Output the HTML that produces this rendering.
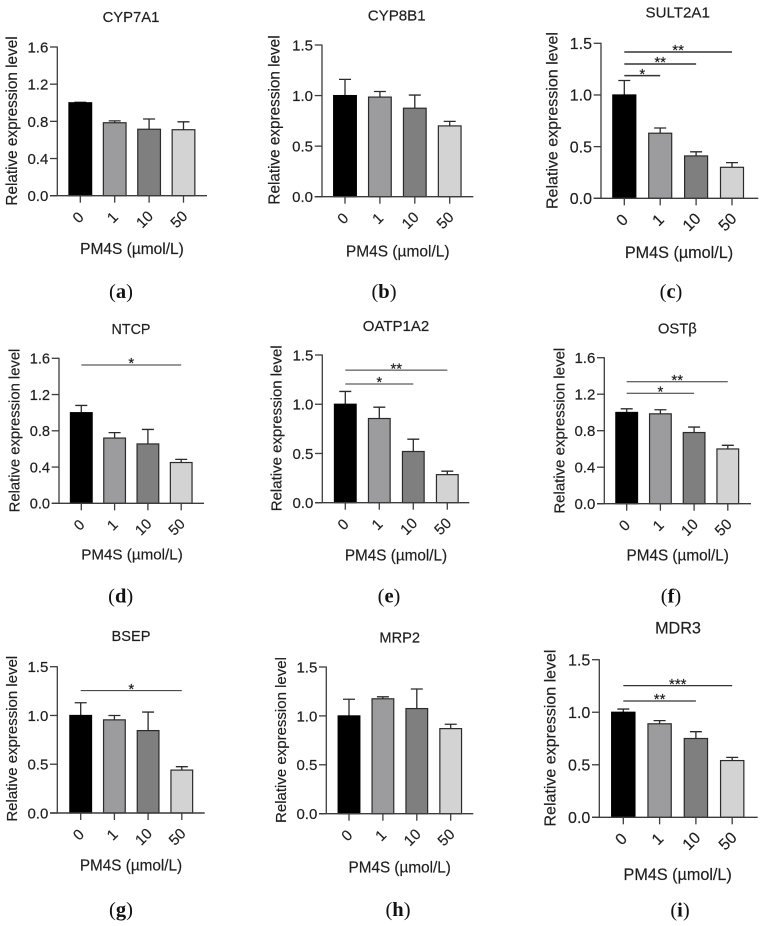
<!DOCTYPE html>
<html lang="en">
<head>
<meta charset="utf-8">
<title>Relative expression levels after PM4S treatment</title>
<style>
html,body{margin:0;padding:0;background:#fff;width:761px;height:926px;overflow:hidden}
svg{display:block;filter:blur(0.35px)}
text{font-family:"Liberation Sans",Arial,sans-serif;fill:#1f1f1f;stroke:#1f1f1f;stroke-width:0.18px}
.cap{font-family:"Liberation Serif","Times New Roman",serif;fill:#111;stroke:none}
</style>
</head>
<body>
<svg id="figure" xmlns="http://www.w3.org/2000/svg" width="761" height="926" viewBox="0 0 761 926"></svg>
<script>
// ---------- data ----------
const categories = ['0', '1', '10', '50'];
const xAxisTitle = 'PM4S (µmol/L)';
const yAxisTitle = 'Relative expression level';
const ticks16 = [0, 0.4, 0.8, 1.2, 1.6];
const ticks15 = [0, 0.5, 1.0, 1.5];

const cyp7a1Means = [1.0, 0.785, 0.715, 0.71];
const cyp7a1Errors = [0.005, 0.02, 0.11, 0.085];
const cyp8b1Means = [1.0, 0.985, 0.875, 0.70];
const cyp8b1Errors = [0.16, 0.055, 0.13, 0.045];
const sult2a1Means = [1.0, 0.63, 0.41, 0.30];
const sult2a1Errors = [0.14, 0.05, 0.04, 0.045];
const ntcpMeans = [1.0, 0.72, 0.655, 0.45];
const ntcpErrors = [0.08, 0.06, 0.16, 0.035];
const oatp1a2Means = [1.0, 0.855, 0.52, 0.285];
const oatp1a2Errors = [0.13, 0.115, 0.125, 0.035];
const ostbMeans = [1.0, 0.985, 0.78, 0.60];
const ostbErrors = [0.04, 0.045, 0.06, 0.04];
const bsepMeans = [1.0, 0.955, 0.845, 0.44];
const bsepErrors = [0.13, 0.045, 0.19, 0.035];
const mrp2Means = [1.0, 1.175, 1.075, 0.87];
const mrp2Errors = [0.17, 0.02, 0.20, 0.045];
const mdr3Means = [1.0, 0.89, 0.75, 0.54];
const mdr3Errors = [0.03, 0.03, 0.065, 0.03];

// significance brackets: first group, last group, height in axis units, label
const sult2a1Sig = [[0, 3, 1.416, '**'], [0, 2, 1.30, '**'], [0, 1, 1.187, '*']];
const ntcpSig = [[0, 3, 1.526, '*']];
const oatp1a2Sig = [[0, 3, 1.346, '**'], [0, 2, 1.205, '*']];
const ostbSig = [[0, 3, 1.337, '**'], [0, 2, 1.21, '*']];
const bsepSig = [[0, 3, 1.255, '*']];
const mdr3Sig = [[0, 3, 1.253, '***'], [0, 2, 1.107, '**']];

// ---------- panel layout (frame geometry, separate from the data) ----------
const panels = [
 {id:'a',title:'CYP7A1',means:cyp7a1Means,errors:cyp7a1Errors,sig:[],sw:1,ticks:ticks16,dec:1,x0:57.3,xEnd:207,yTop:47,yBot:195.7,first:80.3,step:34.4,bw:23.7,tf:15,lf:15.3,xf:15.5,ttf:14.8,tx:131,ty:22,lx:17,ly:121,xx:132,xy:254,cx:121,cy:298},
 {id:'b',title:'CYP8B1',means:cyp8b1Means,errors:cyp8b1Errors,sig:[],sw:1,ticks:ticks15,dec:1,x0:322,xEnd:473.3,yTop:45,yBot:196.7,first:345,step:34.9,bw:23.7,tf:15,lf:15.3,xf:15.5,ttf:15.1,tx:396.7,ty:20.7,lx:279.5,ly:120,xx:397.7,xy:256.7,cx:384,cy:298},
 {id:'c',title:'SULT2A1',means:sult2a1Means,errors:sult2a1Errors,sig:sult2a1Sig,sw:1.5,ticks:ticks15,dec:1,x0:601,xEnd:758.3,yTop:43.3,yBot:198.3,first:624.3,step:35.9,bw:24,tf:16,lf:16,xf:16.2,ttf:15.1,tx:677.7,ty:17.3,lx:557.7,ly:120.5,xx:679,xy:258,cx:671,cy:298},
 {id:'d',title:'NTCP',means:ntcpMeans,errors:ntcpErrors,sig:ntcpSig,sw:1,ticks:ticks16,dec:1,x0:59,xEnd:204,yTop:358.3,yBot:503.3,first:81.3,step:33.3,bw:22.7,tf:14.6,lf:14.8,xf:15.2,ttf:14.3,tx:131,ty:334,lx:19.5,ly:430.5,xx:132,xy:559.3,cx:120.7,cy:602.7},
 {id:'e',title:'OATP1A2',means:oatp1a2Means,errors:oatp1a2Errors,sig:oatp1a2Sig,sw:1,ticks:ticks15,dec:1,x0:322.3,xEnd:469.3,yTop:355,yBot:502.7,first:345.3,step:34,bw:22.7,tf:15,lf:15,xf:15.3,ttf:15,tx:396,ty:331,lx:281.7,ly:428.3,xx:396,xy:560.7,cx:389,cy:602.7},
 {id:'f',title:'OSTβ',means:ostbMeans,errors:ostbErrors,sig:ostbSig,sw:1,ticks:ticks16,dec:1,x0:604.3,xEnd:751,yTop:357.7,yBot:503.7,first:626.7,step:33.7,bw:22.7,tf:15,lf:15,xf:15.3,ttf:14.8,tx:677.3,ty:333.3,lx:564.3,ly:430.7,xx:677.7,xy:560.7,cx:671,cy:602.7},
 {id:'g',title:'BSEP',means:bsepMeans,errors:bsepErrors,sig:bsepSig,sw:1,ticks:ticks15,dec:1,x0:57.3,xEnd:204.7,yTop:666.7,yBot:813,first:80.7,step:33.7,bw:22.7,tf:15,lf:15,xf:15.3,ttf:14.6,tx:131,ty:641,lx:17,ly:738.7,xx:131,xy:870.7,cx:121,cy:916},
 {id:'h',title:'MRP2',means:mrp2Means,errors:mrp2Errors,sig:[],sw:1,ticks:ticks15,dec:1,x0:326.3,xEnd:473.3,yTop:667,yBot:813.7,first:349,step:33.9,bw:22.7,tf:15,lf:15,xf:15.3,ttf:14.6,tx:399.7,ty:642.3,lx:286,ly:740,xx:399.7,xy:872.3,cx:398,cy:916},
 {id:'i',title:'MDR3',means:mdr3Means,errors:mdr3Errors,sig:mdr3Sig,sw:1.3,ticks:ticks15,dec:1,x0:599.3,xEnd:757.7,yTop:659.7,yBot:817.3,first:623.3,step:36.3,bw:24.3,tf:16,lf:16,xf:16.2,ttf:16.2,tx:678,ty:633.3,lx:555.3,ly:738,xx:677.7,xy:880,cx:680,cy:916.7}
];
const barFills = ['#000000', '#9c9c9e', '#7f7f7f', '#d3d3d3'];
const INK = '#2b2b2b';

// ---------- drawing ----------
const svg = document.getElementById('figure');
const NS = 'http://www.w3.org/2000/svg';
function make(tag, parent, props, txt) {
  const node = document.createElementNS(NS, tag);
  for (const k in props) node.setAttribute(k, props[k]);
  if (txt !== undefined) node.textContent = txt;
  parent.appendChild(node);
  return node;
}
panels.forEach(function (p) {
  const yMax = p.ticks[p.ticks.length - 1];
  const yScale = function (v) { return p.yBot - (v / yMax) * (p.yBot - p.yTop); };
  const xScale = function (i) { return p.first + i * p.step; };

  const g = make('g', svg, {});
  
  

  // chart title
  const title = make('text', g, {x: p.tx, y: p.ty, 'text-anchor': 'middle', 'font-size': p.ttf}, p.title);
  
  

  // error bars sit behind the bars
  p.means.forEach(function (m, i) {
    const top = yScale(m + p.errors[i]);
    const err = make('path', g, {d: 'M' + xScale(i) + ' ' + yScale(m) + 'V' + top + 'M' + (xScale(i) - 6) + ' ' + top + 'H' + (xScale(i) + 6), stroke: INK, 'stroke-width': 1.3, fill: 'none'});
    
    
  });

  // bars
  p.means.forEach(function (m, i) {
    const bar = make('rect', g, {x: xScale(i) - (p.bw - 1) / 2, y: yScale(m), width: p.bw - 1, height: p.yBot - yScale(m), fill: barFills[i], stroke: i === 0 ? '#000' : INK, 'stroke-width': 1.2});
    
    
  });

  // axes
  const yAxis = make('line', g, {x1: p.x0, x2: p.x0, y1: p.yTop - 0.5, y2: p.yBot, stroke: '#3c3c3c', 'stroke-width': 1.3});
  
  
  const xAxis = make('line', g, {x1: p.x0 - 7.3, x2: p.xEnd, y1: p.yBot, y2: p.yBot, stroke: '#3c3c3c', 'stroke-width': 1.4});
  
  

  // y ticks
  p.ticks.forEach(function (t) {
    const y = yScale(t);
    const tick = make('line', g, {x1: p.x0 - 7.3, x2: p.x0, y1: y, y2: y, stroke: '#3c3c3c', 'stroke-width': 1.3});
    
    
    const lab = make('text', g, {x: p.x0 - 9, y: y + 0.36 * p.tf, 'text-anchor': 'end', 'font-size': p.tf}, t.toFixed(p.dec));
    
    
  });

  // x ticks and rotated category labels
  categories.forEach(function (c, i) {
    const x = xScale(i);
    const tick = make('line', g, {x1: x, x2: x, y1: p.yBot, y2: p.yBot + 7, stroke: '#3c3c3c', 'stroke-width': 1.3});
    
    
    const lx = x - 2.4 * c.length;
    const ly = p.yBot + 19.5 + 2 * c.length;
    const lab = make('text', g, {x: lx, y: ly + 0.36 * p.tf, 'text-anchor': 'middle', 'font-size': p.tf, transform: 'rotate(-45 ' + lx + ' ' + ly + ')'}, c);
    
    
  });

  // axis titles
  const yt = make('text', g, {x: p.lx, y: p.ly, 'text-anchor': 'middle', 'font-size': p.lf, transform: 'rotate(-90 ' + p.lx + ' ' + p.ly + ')'}, yAxisTitle);
  
  
  const xt = make('text', g, {x: p.xx, y: p.xy, 'text-anchor': 'middle', 'font-size': p.xf}, xAxisTitle);
  
  

  // significance brackets
  p.sig.forEach(function (s) {
    const y = yScale(s[2]);
    const ln = make('line', g, {x1: xScale(s[0]), x2: xScale(s[1]), y1: y, y2: y, stroke: '#333', 'stroke-width': p.sw});
    
    
    const star = make('text', g, {x: (xScale(s[0]) + xScale(s[1])) / 2, y: y - 5.5 + 8.7, 'text-anchor': 'middle', 'font-size': 15}, s[3]);
    
    
  });

  // panel letter
  const cap = make('text', g, {x: p.cx, y: p.cy, 'text-anchor': 'middle', 'font-size': 20.5, class: 'cap'});
  
  
  make('tspan', cap, {}, '(');
  make('tspan', cap, {'font-weight': 'bold'}, p.id);
  make('tspan', cap, {}, ')');
});
</script>
</body>
</html>
